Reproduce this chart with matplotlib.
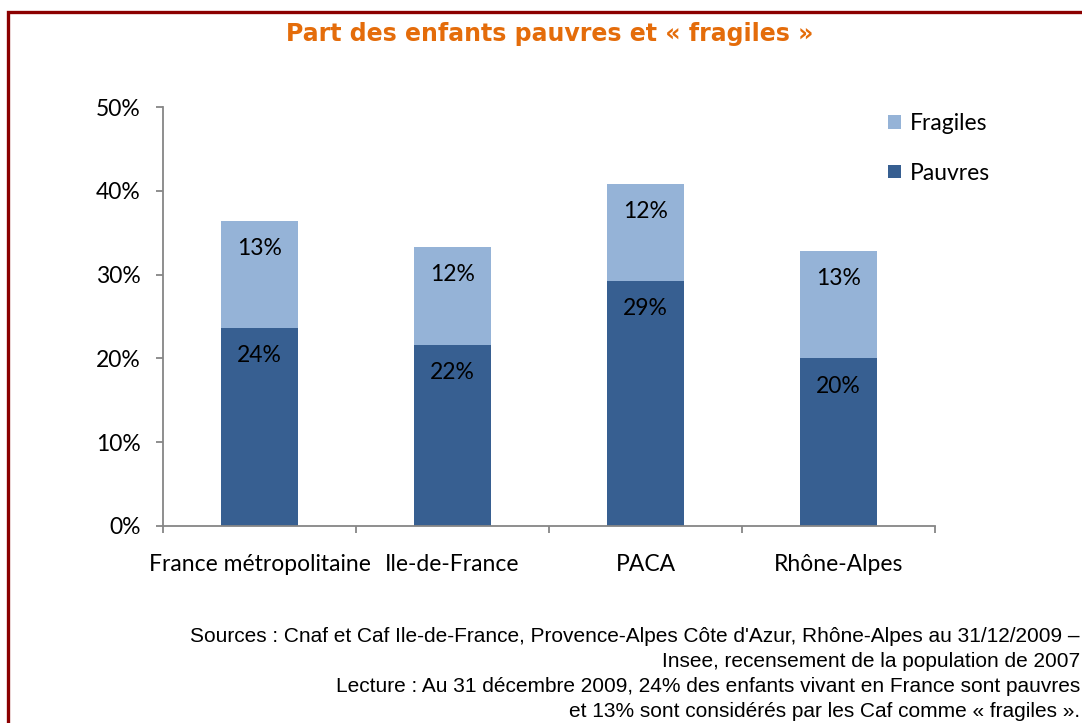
import matplotlib.pyplot as plt
from matplotlib.patches import Rectangle

regions = ['France métropolitaine', 'Ile-de-France', 'PACA', 'Rhône-Alpes']
pauvres = [23.6, 21.6, 29.2, 20.0]
fragiles = [12.8, 11.7, 11.6, 12.8]
pauvres_lbl = ['24%', '22%', '29%', '20%']
fragiles_lbl = ['13%', '12%', '12%', '13%']
yticks = [0, 10, 20, 30, 40, 50]

c_pauvres = '#375F91'
c_fragiles = '#95B3D7'
axis_col = '#868686'
lab_font = 'Lato'
fs = 16.5

fig = plt.figure(figsize=(10.82, 7.23), dpi=100)
ax = fig.add_axes([0.1506, 0.2725, 0.7135, 0.5795])

x = list(range(len(regions)))
b1 = ax.bar(x, pauvres, width=0.4, color=c_pauvres, label='Pauvres')
b2 = ax.bar(x, fragiles, width=0.4, bottom=pauvres, color=c_fragiles,
            label='Fragiles')

for i in x:
    ax.text(i, pauvres[i] - 3.3, pauvres_lbl[i], ha='center', va='center',
            fontsize=fs, family=lab_font, color='black')
    ax.text(i, pauvres[i] + fragiles[i] - 3.3, fragiles_lbl[i], ha='center',
            va='center', fontsize=fs, family=lab_font, color='black')

ax.set_xlim(-0.5, 3.5)
ax.set_ylim(0, 50)
ax.set_yticks(yticks)
ax.set_yticklabels(['%d%%' % v for v in yticks], family=lab_font, fontsize=fs)
ax.set_xticks([-0.5, 0.5, 1.5, 2.5, 3.5])
ax.set_xticklabels([])
ax.set_xticks(x, minor=True)
ax.set_xticklabels(regions, minor=True, family=lab_font, fontsize=fs)
ax.tick_params(axis='x', which='minor', length=0, pad=20)
ax.tick_params(axis='x', which='major', length=5, color=axis_col, width=1.3)
ax.tick_params(axis='y', length=5, color=axis_col, width=1.3, pad=11)
for s in ('top', 'right'):
    ax.spines[s].set_visible(False)
for s in ('left', 'bottom'):
    ax.spines[s].set_color(axis_col)
    ax.spines[s].set_linewidth(1.3)

ax.legend(handles=[b2, b1], loc='upper left', bbox_to_anchor=(0.913, 1.035),
          frameon=False, prop={'family': lab_font, 'size': fs},
          handlelength=0.55, handleheight=0.55, handletextpad=0.4,
          labelspacing=1.25)

fig.text(0.508, 0.953, 'Part des enfants pauvres et « fragiles »',
         ha='center', va='center', fontsize=17, fontweight='bold',
         color='#E46C0A', family='DejaVu Sans')

notes = ["Sources : Cnaf et Caf Ile-de-France, Provence-Alpes Côte d'Azur, Rhône-Alpes au 31/12/2009 –",
         'Insee, recensement de la population de 2007',
         'Lecture : Au 31 décembre 2009, 24% des enfants vivant en France sont pauvres',
         'et 13% sont considérés par les Caf comme « fragiles ».']
for k, line in enumerate(notes):
    fig.text(0.998, 1 - (636 + 25.3 * k) / 723, line, ha='right', va='center',
             fontsize=15, family='Liberation Sans', color='black')

fig.patches.append(Rectangle((0.0075, -0.1), 1.1, 1.1 - 0.0165,
                             transform=fig.transFigure, fill=False,
                             edgecolor='#8B0000', linewidth=2.4))

fig.savefig('out.png', dpi=100)
